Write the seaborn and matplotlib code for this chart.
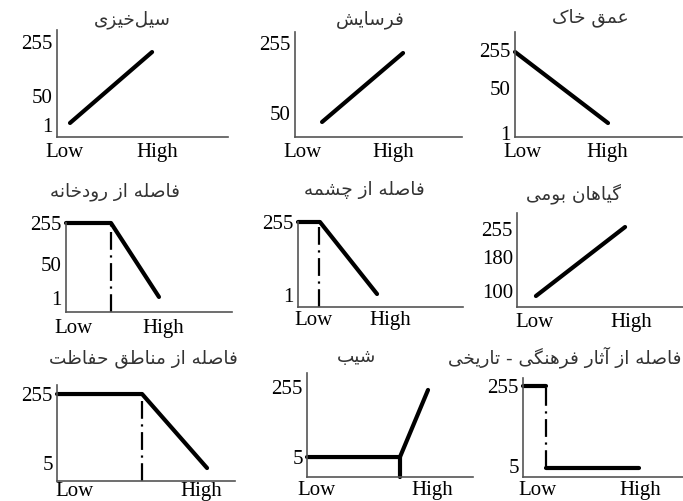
import matplotlib
matplotlib.use("Agg")
import matplotlib.pyplot as plt
import seaborn as sns

sns.set_theme(style="white")
plt.rcParams['font.family'] = ['Liberation Serif', 'DejaVu Serif']

W_PX, H_PX = 683, 501

# ---- data (schematic units 0..100 on both axes of every panel) ----
titles = [
    "سیل\u200cخیزی", "فرسایش", "عمق خاک",
    "فاصله از رودخانه", "فاصله از چشمه", "گیاهان بومی",
    "فاصله از مناطق حفاظت", "شیب", "فاصله از آثار فرهنگی - تاریخی",
]
xtick_labels = ["Low", "High"]
xtick_pos = [[4.1, 58.8], [4.2, 58.7], [4.2, 55.1],
             [4.8, 58.4], [9.1, 55.8], [10.8, 68.7],
             [9.6, 80.9], [6.0, 75.3], [8.8, 73.1]]
ytick_labels = [["1", "50", "255"], ["50", "255"], ["1", "50", "255"],
                ["1", "50", "255"], ["1", "255"], ["100", "180", "255"],
                ["5", "255"], ["5", "255"], ["5", "255"]]
ytick_pos = [[11.2, 38.3, 88.8], [22.9, 89.5], [3.8, 46.7, 82.9],
             [15.7, 53.9, 100.0], [14.1, 100.0], [17.0, 53.2, 83.0],
             [18.8, 90.6], [19.2, 86.5], [11.1, 91.9]]
# membership curves: list of solid polylines per panel
curve_x = [
    [[7.6, 55.6]],
    [[16.2, 64.7]],
    [[0.0, 55.7]],
    [[0.0, 27.1, 56.0]],
    [[0.0, 13.3, 47.9]],
    [[11.4, 65.1]],
    [[0.0, 47.8, 84.3]],
    [[0.0, 56.0, 72.9], [56.0, 56.0]],
    [[0.0, 14.4], [14.4, 72.5]],
]
curve_y = [
    [[13.1, 79.4]],
    [[14.3, 80.0]],
    [[81.0, 13.3]],
    [[100.0, 100.0, 16.9]],
    [[100.0, 100.0, 15.3]],
    [[11.7, 85.1]],
    [[90.6, 90.6, 13.5]],
    [[19.2, 19.2, 83.7], [0.0, 19.2]],
    [[91.9, 91.9], [9.1, 9.1]],
]
# dash-dot break lines: (x, y_from, y_to) or None
breaks = [None, None, None,
          (27.1, 0.0, 100.0), (12.7, 0.0, 100.0), None,
          (47.8, 0.0, 90.6), None, (14.4, 9.1, 91.9)]

# ---- layout (pixels): left, right, top, bottom of each plot box ----
rects = [(57, 228, 30, 137), (295, 462, 32, 137), (515, 682, 32, 137),
         (66, 232, 223, 312), (298, 463, 222, 307), (517, 683, 213, 307),
         (57, 235, 385, 481), (307, 473, 373, 477), (523, 683, 378, 477)]
xpads = [4, 4, 4, 5, 3, 4, 0.5, 3, 3]
# (x, y, horizontal alignment) of each title, pixels
title_xy = [(132, 20, 'center'), (370, 20, 'center'), (590, 18, 'center'),
            (115, 192, 'center'), (364, 190, 'center'), (574, 194, 'center'),
            (143, 359, 'center'), (357, 357, 'center'), (681, 357, 'right')]

# ---- minimal Arabic-script shaping (logical -> visual presentation forms) ----
FORMS = {
    'ا': ('\uFE8D', '\uFE8E', None, None), 'آ': ('\uFE81', '\uFE82', None, None),
    'ب': ('\uFE8F', '\uFE90', '\uFE91', '\uFE92'), 'ت': ('\uFE95', '\uFE96', '\uFE97', '\uFE98'),
    'ث': ('\uFE99', '\uFE9A', '\uFE9B', '\uFE9C'), 'ح': ('\uFEA1', '\uFEA2', '\uFEA3', '\uFEA4'),
    'خ': ('\uFEA5', '\uFEA6', '\uFEA7', '\uFEA8'), 'د': ('\uFEA9', '\uFEAA', None, None),
    'ر': ('\uFEAD', '\uFEAE', None, None), 'ز': ('\uFEAF', '\uFEB0', None, None),
    'س': ('\uFEB1', '\uFEB2', '\uFEB3', '\uFEB4'), 'ش': ('\uFEB5', '\uFEB6', '\uFEB7', '\uFEB8'),
    'ص': ('\uFEB9', '\uFEBA', '\uFEBB', '\uFEBC'), 'ط': ('\uFEC1', '\uFEC2', '\uFEC3', '\uFEC4'),
    'ظ': ('\uFEC5', '\uFEC6', '\uFEC7', '\uFEC8'), 'ع': ('\uFEC9', '\uFECA', '\uFECB', '\uFECC'),
    'ف': ('\uFED1', '\uFED2', '\uFED3', '\uFED4'), 'ق': ('\uFED5', '\uFED6', '\uFED7', '\uFED8'),
    'ل': ('\uFEDD', '\uFEDE', '\uFEDF', '\uFEE0'), 'م': ('\uFEE1', '\uFEE2', '\uFEE3', '\uFEE4'),
    'ن': ('\uFEE5', '\uFEE6', '\uFEE7', '\uFEE8'), 'ه': ('\uFEE9', '\uFEEA', '\uFEEB', '\uFEEC'),
    'و': ('\uFEED', '\uFEEE', None, None), 'چ': ('\uFB7A', '\uFB7B', '\uFB7C', '\uFB7D'),
    'ک': ('\uFB8E', '\uFB8F', '\uFB90', '\uFB91'), 'گ': ('\uFB92', '\uFB93', '\uFB94', '\uFB95'),
    'ی': ('\uFBFC', '\uFBFD', '\uFBFE', '\uFBFF'),
}


def shape_rtl(s):
    out = []
    n = len(s)
    for i, ch in enumerate(s):
        if ch not in FORMS:
            if ch != '\u200c':
                out.append(ch)
            continue
        prev_c = s[i - 1] if i > 0 else ''
        next_c = s[i + 1] if i + 1 < n else ''
        join_prev = prev_c in FORMS and FORMS[prev_c][2] is not None
        join_next = FORMS[ch][2] is not None and next_c in FORMS
        iso, fin, ini, med = FORMS[ch]
        if join_prev and join_next:
            out.append(med)
        elif join_prev:
            out.append(fin)
        elif join_next:
            out.append(ini)
        else:
            out.append(iso)
    return ''.join(reversed(out))


fig = plt.figure(figsize=(W_PX / 100, H_PX / 100), dpi=100)
fig.patch.set_facecolor('white')

DASHDOT = (0, (8, 2.5, 1, 2.5))

for i in range(9):
    L, R, T, B = rects[i]
    ax = fig.add_axes([L / W_PX, 1 - B / H_PX, (R - L) / W_PX, (B - T) / H_PX])
    ax.set_facecolor('none')
    for xs, ys in zip(curve_x[i], curve_y[i]):
        sns.lineplot(x=xs, y=ys, ax=ax, color='black', linewidth=3.0,
                     sort=False, estimator=None, clip_on=False)
    if breaks[i] is not None:
        xb, y0, y1 = breaks[i]
        sns.lineplot(x=[xb, xb], y=[y0, y1], ax=ax, color='black', linewidth=1.6,
                     linestyle=DASHDOT, sort=False, estimator=None, clip_on=False)
    ax.set_xlim(0, 100)
    ax.set_ylim(0, 100)
    ax.set_xlabel('')
    ax.set_ylabel('')
    ax.set_xticks(xtick_pos[i], xtick_labels)
    ax.set_yticks(ytick_pos[i], ytick_labels[i])
    ax.tick_params(axis='both', length=0, labelsize=15, colors='black')
    ax.tick_params(axis='y', pad=3)
    ax.tick_params(axis='x', pad=xpads[i])
    sns.despine(ax=ax)
    for side in ('left', 'bottom'):
        ax.spines[side].set_color('#555555')
        ax.spines[side].set_linewidth(1.2)
    tx, ty, tha = title_xy[i]
    fig.text(tx / W_PX, 1 - ty / H_PX, shape_rtl(titles[i]), family=['DejaVu Sans'],
             fontsize=13.3, ha=tha, va='center', color='#333333')

fig.savefig('out.png', dpi=100)
